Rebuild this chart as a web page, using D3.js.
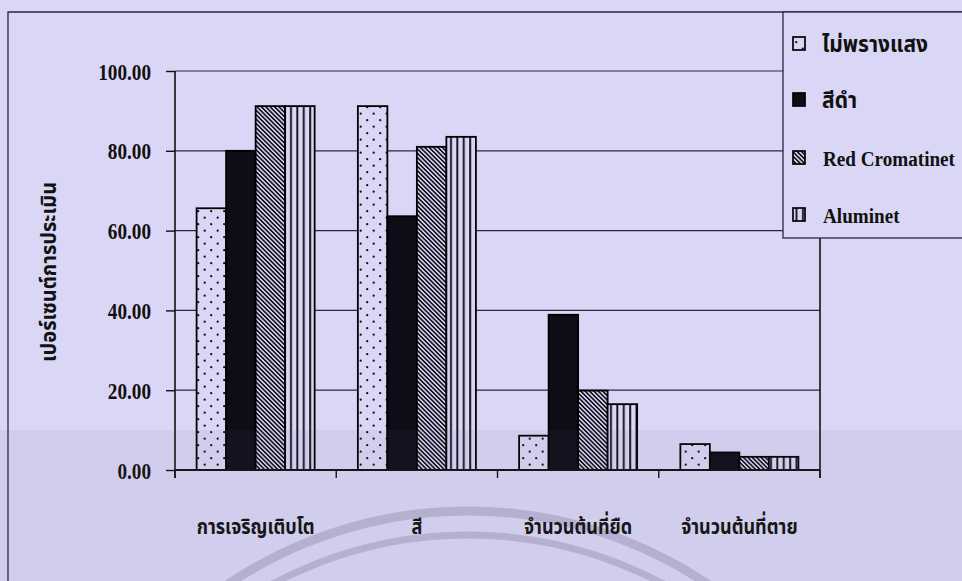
<!DOCTYPE html>
<html><head><meta charset="utf-8">
<script src="https://cdn.jsdelivr.net/npm/d3@7"></script>
<style>
html,body{margin:0;padding:0;background:#dad6f5;}
svg{display:block;}
.serif{font-family:"Liberation Serif","Times New Roman",serif;font-weight:bold;fill:#111;}
.thai{font-family:"Noto Sans Thai","Noto Serif Thai","Loma","Garuda","Norasi","Tlwg Typo","Noto Sans","DejaVu Sans",sans-serif;font-weight:bold;fill:#111;}
</style></head>
<body>
<script>
const categories = ["การเจริญเติบโต", "สี", "จำนวนต้นที่ยืด", "จำนวนต้นที่ตาย"];
const seriesNames = ["ไม่พรางแสง", "สีดำ", "Red Cromatinet", "Aluminet"];
const noShade   = [65.6, 91.2, 8.6, 6.5];
const blackNet  = [80.0, 63.6, 38.9, 4.4];
const redCroma  = [91.2, 81.0, 19.9, 3.3];
const aluminet  = [91.2, 83.5, 16.5, 3.3];
const yTicks = [0, 20, 40, 60, 80, 100];
const yTitle = "เปอร์เซนต์การประเมิน";

const seriesValues = [noShade, blackNet, redCroma, aluminet];
const W = 962, H = 581;
const svg = d3.select("body").append("svg").attr("width", W).attr("height", H);

const defs = svg.append("defs");
const bg = "#dad6f5", ink = "#111018";
// dots
const pDots = defs.append("pattern").attr("id","pDots").attr("patternUnits","userSpaceOnUse")
  .attr("width",13).attr("height",13);
pDots.append("rect").attr("width",13).attr("height",13).attr("fill",bg);
pDots.append("circle").attr("cx",3.2).attr("cy",3.2).attr("r",1.15).attr("fill",ink);
pDots.append("circle").attr("cx",9.7).attr("cy",9.7).attr("r",1.15).attr("fill",ink);
// diagonal
const pDiag = defs.append("pattern").attr("id","pDiag").attr("patternUnits","userSpaceOnUse")
  .attr("width",3.1).attr("height",10).attr("patternTransform","rotate(-45)");
pDiag.append("rect").attr("width",3.1).attr("height",10).attr("fill",bg);
pDiag.append("rect").attr("x",0).attr("width",1.6).attr("height",10).attr("fill",ink);
// vertical
const pVert = defs.append("pattern").attr("id","pVert").attr("patternUnits","userSpaceOnUse")
  .attr("width",6.4).attr("height",10);
pVert.append("rect").attr("width",6.4).attr("height",10).attr("fill",bg);
pVert.append("rect").attr("x",2).attr("width",1.9).attr("height",10).attr("fill",ink);

const fills = ["url(#pDots)", "#0d0c17", "url(#pDiag)", "url(#pVert)"];

// background
svg.append("rect").attr("width",W).attr("height",H).attr("fill",bg);

// watermark arcs
const wm = svg.append("g").attr("fill","none").attr("stroke","#8e86a8").attr("stroke-opacity",0.4);
wm.append("circle").attr("cx",468).attr("cy",940).attr("r",429).attr("stroke-width",9);
wm.append("circle").attr("cx",468).attr("cy",950).attr("r",415).attr("stroke-width",7);

// outer frame
svg.append("path").attr("d","M8,581 L8,12 L962,12").attr("fill","none").attr("stroke","#2a2838").attr("stroke-width",1.3);

// scales
const left = 175, right = 820, y0 = 470, y100 = 71;
const x = d3.scaleBand().domain(categories).range([left, right]).padding(0);
const inner = d3.scaleBand().domain(seriesNames)
  .range([x.bandwidth()*0.134, x.bandwidth()*0.866]).padding(0);
const y = d3.scaleLinear().domain([0,100]).range([y0, y100]);

// gridlines
svg.append("g").selectAll("line").data(yTicks.filter(d=>d>0)).join("line")
  .attr("x1",left).attr("x2",right).attr("y1",d=>y(d)).attr("y2",d=>y(d))
  .attr("stroke","#2a2838").attr("stroke-width",1.2);

// right border
svg.append("line").attr("x1",right).attr("x2",right).attr("y1",y100).attr("y2",y0+8)
  .attr("stroke","#111").attr("stroke-width",1.6);

// bars
const gBars = svg.append("g");
categories.forEach((c,ci)=>{
  seriesNames.forEach((s,si)=>{
    const v = seriesValues[si][ci];
    gBars.append("rect")
      .attr("x", x(c)+inner(s)).attr("y", y(v))
      .attr("width", inner.bandwidth()).attr("height", y(0)-y(v))
      .attr("fill", fills[si]).attr("stroke","#000").attr("stroke-width",1.8);
  });
});

// y axis
const sx = 0.87, tx = 0.8;
const yAxis = d3.axisLeft(y).tickValues(yTicks).tickSize(9).tickFormat(d3.format(".2f"));
const gy = svg.append("g").attr("transform",`translate(${left},0)`).call(yAxis);
gy.select(".domain").attr("stroke","#111").attr("stroke-width",1.6).attr("d",`M0,${y100}V${y0+8}`);
gy.selectAll(".tick line").attr("stroke","#111").attr("stroke-width",1.4);
gy.selectAll(".tick text").attr("x",-24/tx).attr("font-size",24)
  .attr("transform",`scale(${tx},1)`)
  .attr("fill","#111").attr("dy","0.34em")
  .style("font-family","'Liberation Serif',serif").style("font-weight","bold");

// x axis baseline and ticks at band edges
svg.append("line").attr("x1",left).attr("x2",right).attr("y1",y0).attr("y2",y0)
  .attr("stroke","#111").attr("stroke-width",1.8);
const edges = categories.map(c=>x(c)).concat([right]);
svg.append("g").selectAll("line").data(edges).join("line")
  .attr("x1",d=>d).attr("x2",d=>d).attr("y1",y0).attr("y2",y0+8)
  .attr("stroke","#111").attr("stroke-width",1.4);

// category labels
svg.append("g").selectAll("text").data(categories).join("text")
  .attr("class","thai")
  .attr("transform",d=>`translate(${x(d)+x.bandwidth()/2},534) scale(0.95,1.15)`)
  .attr("text-anchor","middle").attr("font-size",19).text(d=>d);

// y title
svg.append("text").attr("class","thai").attr("font-size",20).attr("text-anchor","middle")
  .attr("transform","translate(56,272) rotate(-90) scale(1,1.1)").text(yTitle);

// legend
const lg = svg.append("g");
lg.append("rect").attr("x",783).attr("y",12).attr("width",200).attr("height",226)
  .attr("fill",bg).attr("stroke","#2a2838").attr("stroke-width",1.3);
const rowY = [44, 100, 158, 215];
seriesNames.forEach((s,i)=>{
  lg.append("rect").attr("x",793).attr("y",rowY[i]-7).attr("width",12).attr("height",13)
    .attr("fill",fills[i]).attr("stroke","#000").attr("stroke-width",1.7);
  const t = lg.append("text").attr("dy","0.35em");
  if (i < 2) {
    t.attr("class","thai").attr("font-size",21)
     .attr("transform",`translate(822,${rowY[i]}) scale(1,1.1)`);
  } else {
    t.attr("class","serif").attr("font-size",22)
     .attr("transform",`translate(823,${rowY[i]}) scale(${sx},1)`);
  }
  t.text(s);
});

// scan band overlay
svg.append("rect").attr("x",0).attr("y",430).attr("width",W).attr("height",H-430)
  .attr("fill","#6a6880").attr("fill-opacity",0.07);
</script>
</body></html>
